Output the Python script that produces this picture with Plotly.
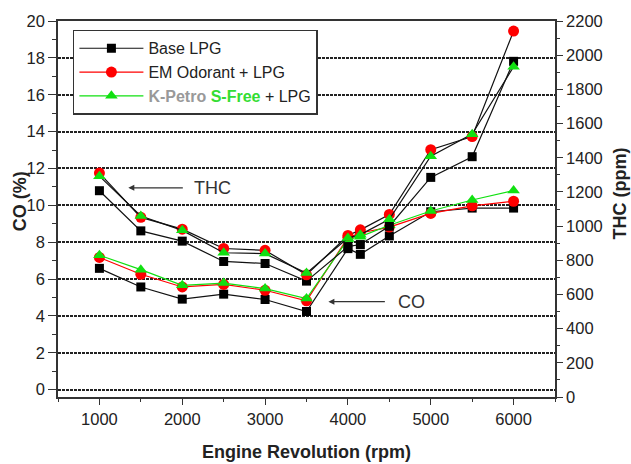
import plotly.graph_objects as go

rpm = [1000, 1500, 2000, 2500, 3000, 3500, 4000, 4150, 4500, 5000, 5500, 6000]

co_base = [6.58, 5.57, 4.91, 5.18, 4.89, 4.24, 7.65, 7.34, 8.34, 9.65, 9.85, 9.85]
co_em = [7.17, 6.26, 5.57, 5.71, 5.39, 4.82, 8.25, 8.5, 8.82, 9.56, 9.97, 10.22]
co_kp = [7.29, 6.51, 5.66, 5.78, 5.48, 4.94, 8.15, 8.3, 8.92, 9.69, 10.29, 10.8]

thc_base = [1207, 972, 912, 793, 781, 678, 880, 892, 999, 1285, 1406, 1964]
thc_em = [1310, 1051, 982, 869, 858, 715, 945, 978, 1068, 1447, 1524, 2141]
thc_kp = [1292, 1059, 975, 844, 839, 725, 930, 950, 1040, 1409, 1538, 1932]

names = ["Base LPG", "EM Odorant + LPG",
         "<span style='color:#999999'><b>K-Petro</b></span> "
         "<span style='color:#33dd33'><b>S-Free</b></span> + LPG"]
colors = ["#000000", "#ff0000", "#11e011"]
symbols = ["square", "circle", "triangle-up"]
msizes = [9, 11, 11]

FONT = "Liberation Sans, Arial, sans-serif"
fig = go.Figure()

co_sets = [co_base, co_em, co_kp]
thc_sets = [thc_base, thc_em, thc_kp]
for i in range(3):
    fig.add_trace(go.Scatter(
        x=rpm, y=thc_sets[i], yaxis="y2", mode="lines+markers",
        line=dict(color="#111111", width=1.2),
        marker=dict(symbol=symbols[i], size=msizes[i], color=colors[i]),
        showlegend=False, name=names[i] + " THC"))
for i in range(3):
    fig.add_trace(go.Scatter(
        x=rpm, y=co_sets[i], yaxis="y", mode="lines+markers",
        line=dict(color=colors[i] if i else "#111111", width=1.2),
        marker=dict(symbol=symbols[i], size=msizes[i], color=colors[i]),
        name=names[i]))

axis_common = dict(showline=True, linecolor="#333333", linewidth=1.5,
                   tickfont=dict(family=FONT, size=16.5, color="#222222"),
                   zeroline=False, tickcolor="#333333")

fig.update_layout(
    width=631, height=464,
    margin=dict(l=58, r=76, t=14, b=67),
    paper_bgcolor="white", plot_bgcolor="white",
    font=dict(family=FONT, size=16, color="#222222"),
    xaxis=dict(range=[500, 6500], tick0=0, dtick=1000, ticks="outside",
               ticklen=6, tickwidth=1.2, mirror=True, showgrid=False,
               minor=dict(dtick=500, ticklen=3, ticks="outside", tickcolor="#333333"),
               **axis_common),
    yaxis=dict(range=[-0.4, 20], tick0=0, dtick=2, ticks="outside",
               ticklen=8, tickwidth=1.2,
               showgrid=True, gridcolor="#222222", gridwidth=1.5, griddash="3px,1px",
               minor=dict(dtick=1, ticklen=4, ticks="outside", tickcolor="#333333"),
               **axis_common),
    yaxis2=dict(range=[0, 2200], tick0=0, dtick=200, overlaying="y", side="right",
                ticks="outside", ticklen=6, tickwidth=1.2, showgrid=False,
                minor=dict(dtick=100, ticklen=3, ticks="outside", tickcolor="#333333"),
                **axis_common),
    legend=dict(x=0.030, y=0.9765, xanchor="left", yanchor="top",
                bgcolor="white", bordercolor="#333333", borderwidth=1.5,
                font=dict(family=FONT, size=16, color="#222222"),
                itemwidth=64),
    showlegend=True,
)

ann = []
ann.append(dict(text="<b>Engine Revolution (rpm)</b>", xref="paper", yref="paper",
                x=0.5, y=-0.145, yanchor="middle", showarrow=False,
                font=dict(family=FONT, size=18, color="#222222")))
ann.append(dict(text="<b>CO (%)</b>", xref="paper", yref="paper",
                x=-0.075, y=0.52, textangle=-90, xanchor="center", yanchor="middle",
                showarrow=False, font=dict(family=FONT, size=18, color="#222222")))
ann.append(dict(text="<b>THC (ppm)</b>", xref="paper", yref="paper",
                x=1.13, y=0.54, textangle=-90, xanchor="center", yanchor="middle",
                showarrow=False, font=dict(family=FONT, size=18, color="#222222")))
ann.append(dict(text="THC", x=2370, y=10.95, xref="x", yref="y", showarrow=False,
                font=dict(family=FONT, size=18, color="#333333")))
ann.append(dict(text="", x=1349, y=10.95, xref="x", yref="y", showarrow=True,
                ax=56, ay=0, arrowhead=2, arrowsize=1, arrowwidth=1.2,
                arrowcolor="#333333", standoff=0))
ann.append(dict(text="CO", x=4762, y=4.77, xref="x", yref="y", showarrow=False,
                font=dict(family=FONT, size=18, color="#333333")))
ann.append(dict(text="", x=3764, y=4.77, xref="x", yref="y", showarrow=True,
                ax=58, ay=0, arrowhead=2, arrowsize=1, arrowwidth=1.2,
                arrowcolor="#333333", standoff=0))
fig.update_layout(annotations=ann)

fig.write_html("out.html")
